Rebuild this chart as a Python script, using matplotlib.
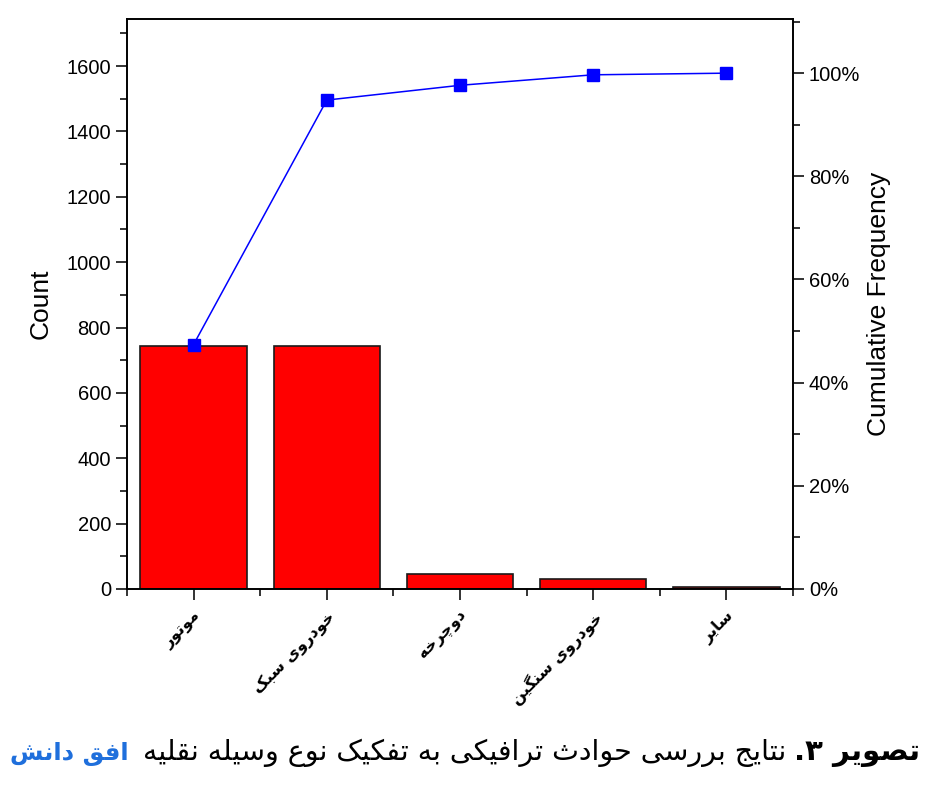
import numpy as np
import matplotlib
matplotlib.use("Agg")
import matplotlib.pyplot as plt
from matplotlib.ticker import MultipleLocator, FuncFormatter

# داده‌ها (خوانده شده از نمودار)
categories = ['موتور', 'خودروی سبک', 'دوچرخه', 'خودروی سنگین', 'سایر']
counts = [745, 745, 45, 32, 5]
caption_bold = 'تصویر ۳.'
caption_text = 'نتایج بررسی حوادث ترافیکی به تفکیک نوع وسیله نقلیه'
logo_text = 'افق دانش'

# --- shaping of persian letters (no arabic_reshaper available) ---
FORMS = {
    'ا': (0xFE8D, 0xFE8E), 'آ': (0xFE81, 0xFE82), 'د': (0xFEA9, 0xFEAA),
    'ذ': (0xFEAB, 0xFEAC), 'ر': (0xFEAD, 0xFEAE), 'ز': (0xFEAF, 0xFEB0),
    'ژ': (0xFB8A, 0xFB8B), 'و': (0xFEED, 0xFEEE),
    'ب': (0xFE8F, 0xFE90, 0xFE91, 0xFE92), 'پ': (0xFB56, 0xFB57, 0xFB58, 0xFB59),
    'ت': (0xFE95, 0xFE96, 0xFE97, 0xFE98), 'ث': (0xFE99, 0xFE9A, 0xFE9B, 0xFE9C),
    'ج': (0xFE9D, 0xFE9E, 0xFE9F, 0xFEA0), 'چ': (0xFB7A, 0xFB7B, 0xFB7C, 0xFB7D),
    'ح': (0xFEA1, 0xFEA2, 0xFEA3, 0xFEA4), 'خ': (0xFEA5, 0xFEA6, 0xFEA7, 0xFEA8),
    'س': (0xFEB1, 0xFEB2, 0xFEB3, 0xFEB4), 'ش': (0xFEB5, 0xFEB6, 0xFEB7, 0xFEB8),
    'ص': (0xFEB9, 0xFEBA, 0xFEBB, 0xFEBC), 'ض': (0xFEBD, 0xFEBE, 0xFEBF, 0xFEC0),
    'ط': (0xFEC1, 0xFEC2, 0xFEC3, 0xFEC4), 'ظ': (0xFEC5, 0xFEC6, 0xFEC7, 0xFEC8),
    'ع': (0xFEC9, 0xFECA, 0xFECB, 0xFECC), 'غ': (0xFECD, 0xFECE, 0xFECF, 0xFED0),
    'ف': (0xFED1, 0xFED2, 0xFED3, 0xFED4), 'ق': (0xFED5, 0xFED6, 0xFED7, 0xFED8),
    'ک': (0xFB8E, 0xFB8F, 0xFB90, 0xFB91), 'گ': (0xFB92, 0xFB93, 0xFB94, 0xFB95),
    'ل': (0xFEDD, 0xFEDE, 0xFEDF, 0xFEE0), 'م': (0xFEE1, 0xFEE2, 0xFEE3, 0xFEE4),
    'ن': (0xFEE5, 0xFEE6, 0xFEE7, 0xFEE8), 'ه': (0xFEE9, 0xFEEA, 0xFEEB, 0xFEEC),
    'ی': (0xFBFC, 0xFBFD, 0xFBFE, 0xFBFF),
}


def fa(text):
    out = []
    n = len(text)
    for i, ch in enumerate(text):
        if ch not in FORMS:
            out.append(ch)
            continue
        f = FORMS[ch]
        prev = text[i - 1] if i > 0 else ''
        nxt = text[i + 1] if i < n - 1 else ''
        joins_prev = prev in FORMS and len(FORMS[prev]) == 4
        joins_next = len(f) == 4 and nxt in FORMS
        if joins_prev and joins_next:
            code = f[3]
        elif joins_prev:
            code = f[1]
        elif joins_next:
            code = f[2]
        else:
            code = f[0]
        out.append(chr(code))
    return ''.join(out)[::-1]


plt.rcParams['font.family'] = ['Liberation Sans', 'DejaVu Sans']

fig = plt.figure(figsize=(9.26, 7.88), dpi=100)
ax = fig.add_axes([127 / 926, 1 - 589 / 788, 666 / 926, 570 / 788])
ax2 = ax.twinx()

x = np.arange(len(categories))
total = sum(counts)
cum = np.cumsum(counts) / total * 100

ax.bar(x, counts, width=0.8, color='#ff0000', edgecolor='#1a1a1a', linewidth=1.2, zorder=2)
ax2.plot(x, cum, color='#0000ff', lw=1.1, marker='s', ms=9,
         mfc='#0000ff', mec='#0000ff', zorder=3)

ax.set_xlim(-0.5, len(categories) - 0.5)
ax.set_ylim(0, 1744)
ax2.set_ylim(0, 110.5)

ax.yaxis.set_major_locator(MultipleLocator(200))
ax.yaxis.set_minor_locator(MultipleLocator(100))
ax2.yaxis.set_major_locator(MultipleLocator(20))
ax2.yaxis.set_minor_locator(MultipleLocator(10))
ax2.yaxis.set_major_formatter(FuncFormatter(lambda v, p: f'{v:.0f}%'))

ax.set_xticks(x)
ax.set_xticks(np.r_[x - 0.5, x[-1] + 0.5], minor=True)
ax.set_xticklabels([fa(c) for c in categories], rotation=45, ha='right',
                   rotation_mode='anchor', fontsize=11.5, fontweight='bold',
                   family='DejaVu Sans')

for a in (ax, ax2):
    for s in a.spines.values():
        s.set_linewidth(1.2)
    a.tick_params(which='major', direction='out', length=8, width=1.2,
                  labelsize=14.5, color='#111111')
    a.tick_params(which='minor', direction='out', length=5, width=1.2, color='#111111')
ax.tick_params(axis='x', labelsize=11.5, pad=6)

ax.set_ylabel('Count', fontsize=19, labelpad=10)
ax2.set_ylabel('Cumulative Frequency', fontsize=19, labelpad=5)

# caption
renderer = fig.canvas.get_renderer()
t1 = fig.text(0.993, 1 - 760 / 788, fa(caption_bold), ha='right', va='baseline',
              fontsize=21, fontweight='bold', family='DejaVu Sans', color='black')
bb = t1.get_window_extent(renderer)
t2 = fig.text(bb.x0 / 926 - 0.008, 1 - 760 / 788, fa(caption_text), ha='right',
              va='baseline', fontsize=20.5, family='DejaVu Sans', color='black')
bb2 = t2.get_window_extent(renderer)

# logo fits between left edge and the caption
logo = fig.text(10 / 926, 1 - 760 / 788, fa(logo_text), ha='left',
                va='baseline', fontsize=25, fontweight='bold',
                family='DejaVu Sans', color='#1f6fdc')
w = logo.get_window_extent(renderer).width
room = bb2.x0 - 10 - 14
logo.set_fontsize(25 * room / w)

fig.savefig('out.png', dpi=100)
